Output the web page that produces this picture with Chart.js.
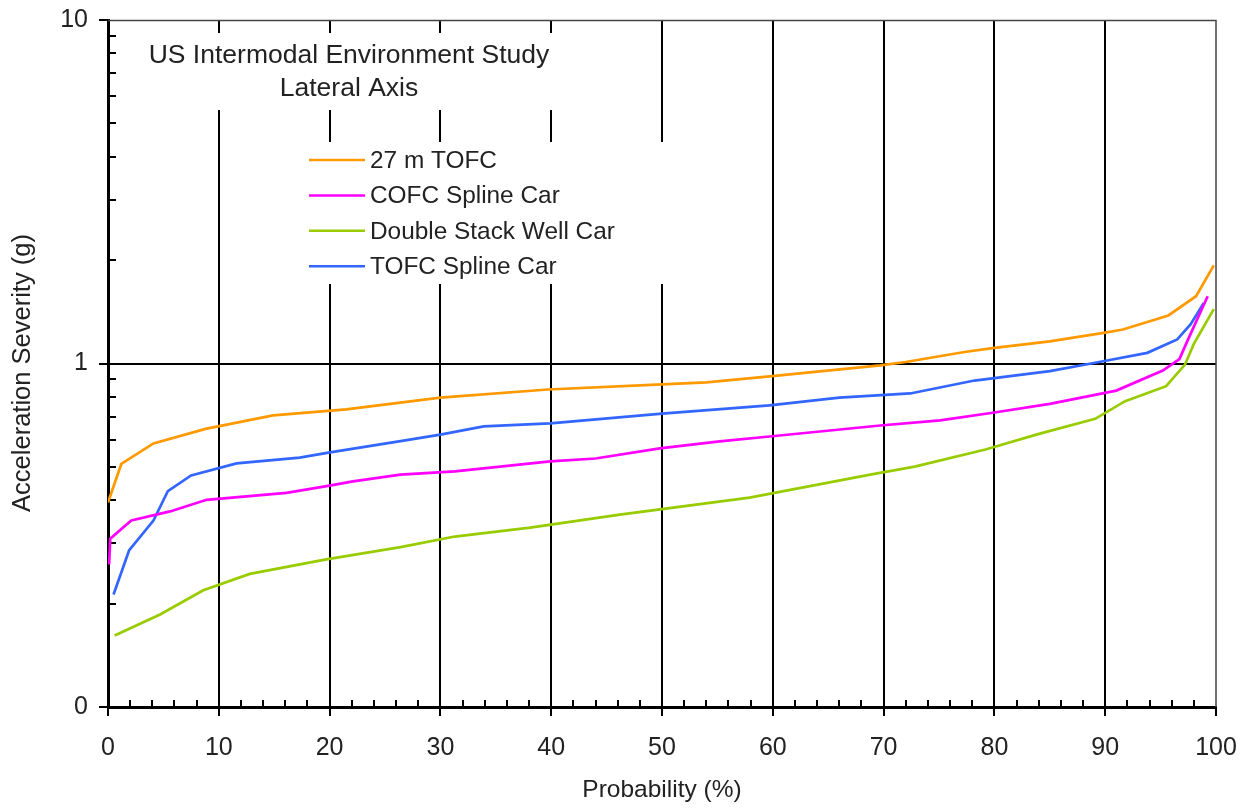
<!DOCTYPE html>
<html>
<head>
<meta charset="utf-8">
<title>US Intermodal Environment Study - Lateral Axis</title>
<script src="https://cdn.jsdelivr.net/npm/chart.js@4.4.1/dist/chart.umd.min.js"></script>
<style>
  html, body { margin: 0; padding: 0; background: #fff; }
  #wrap { width: 1255px; height: 809px; position: relative; }
</style>
</head>
<body>
<div id="wrap"><canvas id="chart" width="1255" height="809"></canvas></div>
<script>
// ── Series data: probability (%) vs acceleration severity (g) ──
const tofc27Prob = [0, 1.2, 4.1, 8.8, 14.9, 21.5, 30, 39.7, 50, 54, 59.7, 69.7, 72, 77.3, 80, 85, 90, 91.6, 95.7, 98.2, 99.8];
const tofc27G    = [0.394, 0.51, 0.585, 0.645, 0.706, 0.735, 0.796, 0.84, 0.869, 0.881, 0.917, 0.987, 1.01, 1.08, 1.11, 1.16, 1.23, 1.256, 1.38, 1.57, 1.93];

const cofcProb = [0.1, 0.2, 2.1, 5.6, 8.9, 16.1, 20, 22.1, 26.4, 31.3, 39.9, 44, 49.8, 55.2, 59.7, 69.7, 75.1, 80, 85, 91, 95.2, 96.7, 97.4, 99.25];
const cofcG    = [0.26, 0.309, 0.349, 0.371, 0.401, 0.42, 0.441, 0.454, 0.475, 0.485, 0.519, 0.529, 0.566, 0.593, 0.613, 0.66, 0.683, 0.72, 0.763, 0.834, 0.954, 1.03, 1.16, 1.57];

const dsProb = [0.6, 4.7, 8.6, 12.8, 19.7, 26.4, 31.3, 38.1, 46.2, 57.9, 68.8, 72.8, 79.2, 84.1, 89.1, 91.8, 95.5, 97.2, 98, 99.8];
const dsG    = [0.1615, 0.186, 0.2187, 0.244, 0.269, 0.292, 0.3135, 0.333, 0.363, 0.407, 0.475, 0.501, 0.562, 0.625, 0.69, 0.777, 0.859, 0.993, 1.14, 1.44];

const tofcSplProb = [0.5, 1.9, 4.1, 5.4, 7.5, 11.6, 17.3, 19.9, 26.4, 30, 33.9, 39.9, 50, 59.7, 66, 72.4, 78.2, 85, 89.1, 93.8, 96.5, 97.7, 98.9];
const tofcSplG    = [0.2126, 0.2855, 0.349, 0.425, 0.472, 0.512, 0.532, 0.55, 0.594, 0.621, 0.656, 0.669, 0.715, 0.755, 0.796, 0.818, 0.892, 0.95, 1.005, 1.074, 1.175, 1.30, 1.50];

const seriesNames  = ['27 m TOFC', 'COFC Spline Car', 'Double Stack Well Car', 'TOFC Spline Car'];
const seriesColors = ['#ff9900', '#ff00ff', '#99cc00', '#3366ff'];

// ── Axes ──
const yTickValues = [0.1, 1, 10];
const yTickLabels = ['0', '1', '10'];
const yMinorTicks = [0.2, 0.3, 0.4, 0.5, 0.6, 0.7, 0.8, 0.9, 2, 3, 4, 5, 6, 7, 8, 9];
const xMinorTicks = [2, 4, 6, 8, 12, 14, 16, 18, 22, 24, 26, 28, 32, 34, 36, 38, 42, 44, 46, 48,
                     52, 54, 56, 58, 62, 64, 66, 68, 72, 74, 76, 78, 82, 84, 86, 88, 92, 94, 96, 98];
const titleLines = ['US Intermodal Environment Study', 'Lateral Axis'];
const yAxisTitle = 'Acceleration Severity (g)';

const FONT = '"Liberation Sans", Arial, Helvetica, sans-serif';
const INK = '#222';

const pts = (xs, ys) => xs.map((x, i) => ({ x, y: ys[i] }));

// ── Frame, minor ticks, title panel, legend ─────────────────
const decorPlugin = {
  id: 'decor',
  beforeDatasetsDraw(chart) {
    const { ctx, chartArea: a, scales: { x, y } } = chart;
    ctx.save();
    // white panels that hide the grid behind title and legend
    ctx.fillStyle = '#fff';
    ctx.fillRect(130, 33, 470, 77);
    ctx.fillRect(300, 142, 400, 142);

    // thin top / right frame
    ctx.strokeStyle = '#444';
    ctx.lineWidth = 1.5;
    ctx.beginPath();
    ctx.moveTo(a.left, a.top + 0.5);
    ctx.lineTo(a.right, a.top + 0.5);
    ctx.lineTo(a.right, a.bottom);
    ctx.stroke();

    // inward minor ticks
    ctx.strokeStyle = '#000';
    ctx.lineWidth = 2;
    ctx.beginPath();
    for (const v of xMinorTicks) {
      const px = Math.round(x.getPixelForValue(v));
      ctx.moveTo(px, a.bottom);
      ctx.lineTo(px, a.bottom - 7);
    }
    for (const v of yMinorTicks) {
      const py = Math.round(y.getPixelForValue(v));
      ctx.moveTo(a.left, py);
      ctx.lineTo(a.left + 8, py);
    }
    ctx.stroke();
    ctx.restore();
  },
  afterDatasetsDraw(chart) {
    const { ctx } = chart;
    ctx.save();
    ctx.fillStyle = INK;
    ctx.textAlign = 'center';
    ctx.textBaseline = 'middle';
    ctx.font = `26.5px ${FONT}`;
    titleLines.forEach((t, i) => ctx.fillText(t, 349, 56 + i * 33));

    // rotated y axis title, sitting a little below the plot centre
    ctx.save();
    ctx.translate(23, 373);
    ctx.rotate(-Math.PI / 2);
    ctx.font = `25.5px ${FONT}`;
    ctx.fillText(yAxisTitle, 0, 0);
    ctx.restore();

    // legend, one row per dataset
    ctx.font = `24.4px ${FONT}`;
    ctx.textAlign = 'left';
    chart.data.datasets.forEach((ds, i) => {
      const ly = 160 + i * 35.4;
      ctx.strokeStyle = ds.borderColor;
      ctx.lineWidth = 2.5;
      ctx.beginPath();
      ctx.moveTo(309, ly);
      ctx.lineTo(365, ly);
      ctx.stroke();
      ctx.fillText(ds.label, 370, ly + 1);
    });
    ctx.restore();
  }
};

const lineSet = (i, data) => ({
  label: seriesNames[i],
  data,
  borderColor: seriesColors[i],
  backgroundColor: seriesColors[i],
  borderWidth: 2.7,
  pointRadius: 0,
  tension: 0,
  fill: false
});

new Chart(document.getElementById('chart'), {
  type: 'line',
  data: {
    datasets: [
      lineSet(0, pts(tofc27Prob, tofc27G)),
      lineSet(1, pts(cofcProb, cofcG)),
      lineSet(2, pts(dsProb, dsG)),
      lineSet(3, pts(tofcSplProb, tofcSplG))
    ]
  },
  options: {
    responsive: false,
    animation: false,
    devicePixelRatio: 1,
    layout: { padding: { left: 0, top: 20, right: 39, bottom: 0 } },
    plugins: { legend: { display: false }, tooltip: { enabled: false } },
    scales: {
      x: {
        type: 'linear',
        min: 0, max: 100,
        afterFit: s => { s.height = 102; },
        ticks: { stepSize: 10, color: INK, font: { family: FONT, size: 25 }, padding: 17, maxRotation: 0 },
        grid: {
          color: c => (c.tick && c.tick.value > 0 && c.tick.value < 100) ? '#000' : 'rgba(0,0,0,0)',
          lineWidth: 2,
          drawTicks: true, tickLength: 9, tickColor: '#000', tickWidth: 2
        },
        border: { color: '#000', width: 3 },
        title: { display: true, text: 'Probability (%)', color: INK, font: { family: FONT, size: 24.5 }, padding: { top: 0, bottom: 4 } }
      },
      y: {
        type: 'logarithmic',
        min: 0.1, max: 10,
        // fixed axis width; end labels may overhang the plot edges
        afterFit: s => { s.width = 108; s.paddingTop = 0; s.paddingBottom = 0; },
        afterBuildTicks: s => { s.ticks = yTickValues.map(v => ({ value: v })); },
        ticks: {
          color: INK, font: { family: FONT, size: 25 }, padding: 11,
          callback: v => yTickLabels[yTickValues.indexOf(v)] ?? ''
        },
        grid: {
          color: c => (c.tick && c.tick.value === 1) ? '#000' : 'rgba(0,0,0,0)',
          lineWidth: 2,
          drawTicks: true, tickLength: 9, tickColor: '#000', tickWidth: 2
        },
        border: { color: '#000', width: 3 }
      }
    }
  },
  plugins: [decorPlugin]
});
</script>
</body>
</html>
